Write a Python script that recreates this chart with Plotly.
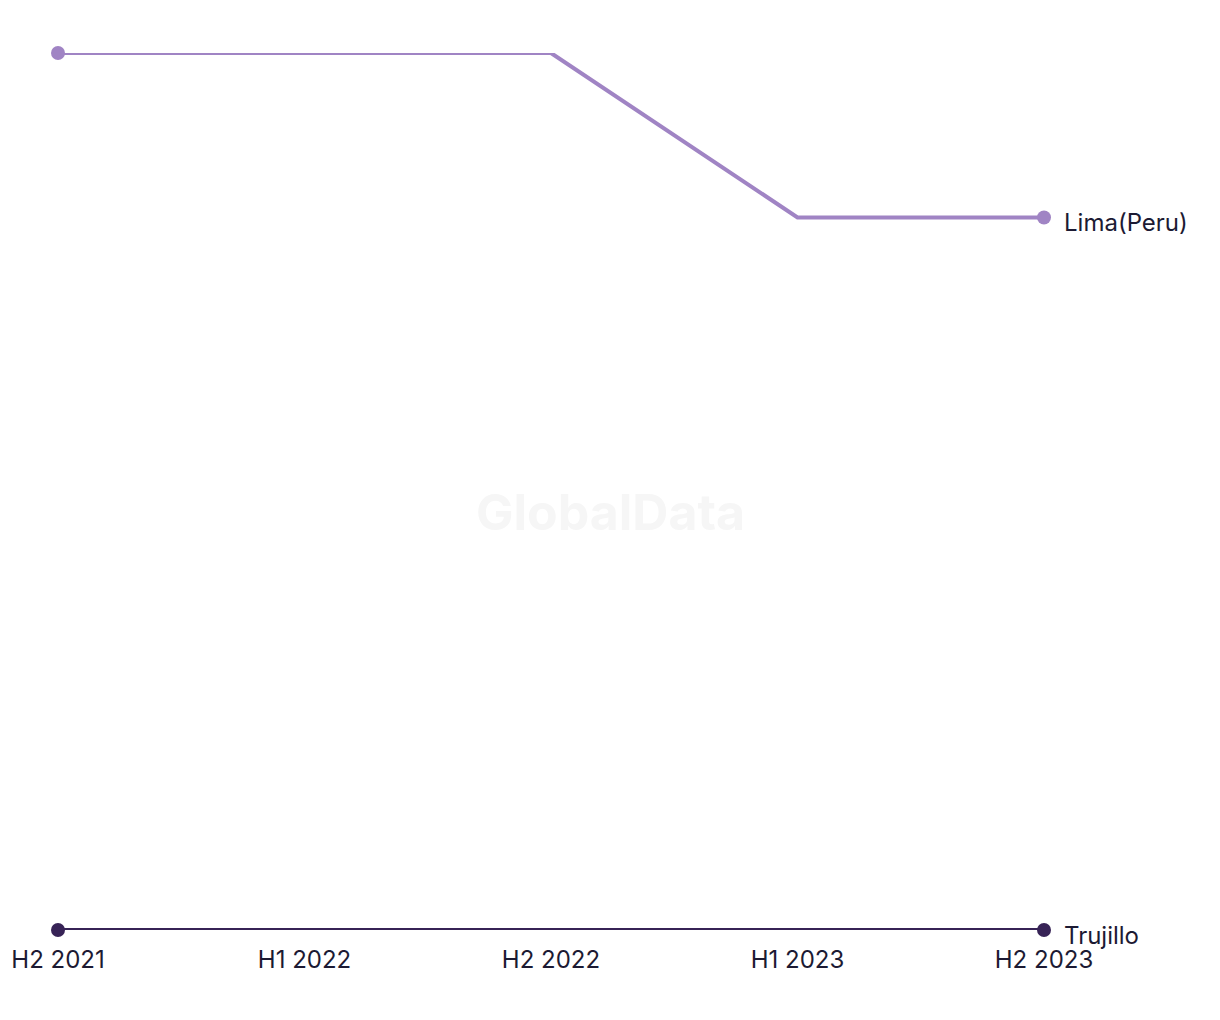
import plotly.graph_objects as go

periods = ["H2 2021", "H1 2022", "H2 2022", "H1 2023", "H2 2023"]
lima_values = [16, 16, 16, 13, 13]
trujillo_values = [0, 0, 0, 0, 0]

series = [
    ("Lima(Peru)", lima_values, "#A084C4"),
    ("Trujillo", trujillo_values, "#372356"),
]

n = len(periods)

fig = go.Figure()
for name, vals, color in series:
    fig.add_trace(go.Scatter(
        x=list(range(n)), y=vals, mode="lines", name=name,
        line=dict(color=color, width=4),
        cliponaxis=False, showlegend=False, hoverinfo="skip",
    ))
    fig.add_trace(go.Scatter(
        x=[0, n - 1], y=[vals[0], vals[-1]], mode="markers", name=name,
        marker=dict(color=color, size=14, line=dict(width=0)),
        cliponaxis=False, showlegend=False,
    ))
    fig.add_annotation(
        x=n - 1, y=vals[-1], text=name, showarrow=False,
        xanchor="left", yanchor="middle", xshift=18, yshift=-5,
        font=dict(family="Inter", size=24, color="#1c1a33"),
    )

fig.add_annotation(
    x=0.56, y=0.477, xref="paper", yref="paper", text="<b>GlobalData</b>",
    showarrow=False, font=dict(family="Inter", size=50, color="#f6f6f6"),
)

fig.update_layout(
    width=1212, height=1012,
    margin=dict(l=50, r=176, t=45, b=90, autoexpand=False),
    paper_bgcolor="white", plot_bgcolor="white",
    xaxis=dict(
        range=[0, n - 1], tickvals=list(range(n)), ticktext=periods,
        showgrid=False, zeroline=False, showline=False, automargin=False,
        ticks="outside", ticklen=8, tickcolor="rgba(0,0,0,0)",
        tickfont=dict(family="Inter", size=24, color="#1c1a33"),
    ),
    yaxis=dict(range=[0, 16], visible=False, automargin=False),
)

fig.write_html("out.html")
